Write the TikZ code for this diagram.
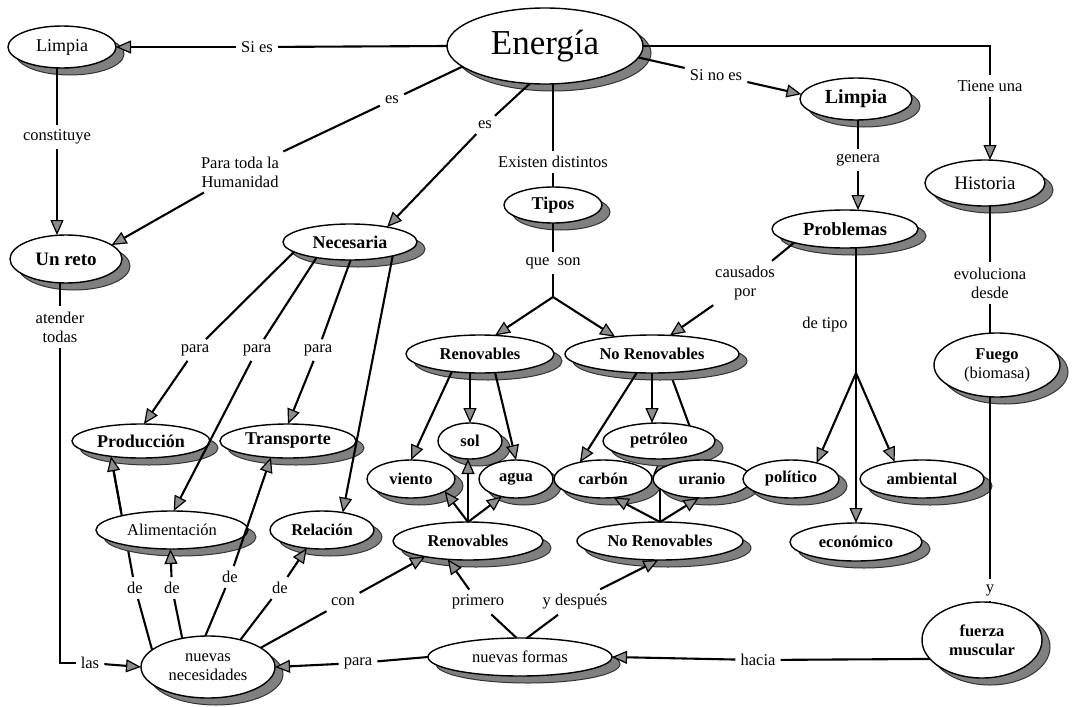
\documentclass[tikz,border=0pt]{standalone}
\usepackage{fontspec}
\setmainfont{Liberation Serif}
\usetikzlibrary{arrows.meta,shapes.geometric,shadows,calc}
\pgfdeclarelayer{bgfill}
\pgfdeclarelayer{bg}
\pgfsetlayers{bgfill,bg,main}
\begin{document}
\begin{tikzpicture}[x=1pt,y=-1pt,
  con/.style={line width=2.1pt, draw=black},
  arr/.style={con, -{Triangle[length=15pt,width=13pt,fill=black!45,line width=1.2pt]}},
  cn/.style={ellipse, draw=black, line width=1.4pt, fill=white, inner sep=0pt, outer sep=0pt,
     drop shadow={shadow xshift=8pt, shadow yshift=-7pt, fill=black!50, draw=black!80, line width=1pt, opacity=1}},
  rg/.style={cn, font=\fontsize{17}{19}\selectfont, align=center},
  bd/.style={cn, font=\fontsize{16.5}{19}\selectfont\bfseries, align=center},
  bb/.style={cn, font=\fontsize{18}{20}\selectfont\bfseries},
  lb/.style={inner xsep=5pt, inner ysep=5pt, font=\fontsize{16.5}{19}\selectfont, align=center},
  ]
\useasboundingbox (0,0) rectangle (1074,707);
\begin{pgfonlayer}{bgfill}
\fill[white] (0,0) rectangle (1074,707);
\end{pgfonlayer}

% ---------------- nodes ----------------
\node[cn, font=\fontsize{35}{40}\selectfont, minimum width=196pt, minimum height=76pt] (E) at (545,46) {Energía};
\node[rg, font=\fontsize{18}{20}\selectfont, minimum width=108pt, minimum height=42pt] (LL) at (62,47) {Limpia};
\node[bb, font=\fontsize{19}{21}\selectfont\bfseries, minimum width=112pt, minimum height=48pt] (UR) at (66,259) {Un reto};
\node[bb, minimum width=134pt, minimum height=36pt] (NE) at (350,242) {Necesaria};
\node[bd, font=\fontsize{18}{20}\selectfont\bfseries, minimum width=98pt, minimum height=36pt] (TI) at (553,205) {Tipos};
\node[bd, font=\fontsize{20}{22}\selectfont\bfseries, minimum width=112pt, minimum height=42pt] (LR) at (856,99) {Limpia};
\node[rg, font=\fontsize{19}{21}\selectfont, minimum width=120pt, minimum height=46pt] (HI) at (985,183) {Historia};
\node[bd, font=\fontsize{18.5}{21}\selectfont\bfseries, minimum width=146pt, minimum height=38pt] (PR) at (845,229) {Problemas};
\node[bd, minimum width=148pt, minimum height=38pt] (RU) at (480,354) {Renovables};
\node[bd, minimum width=174pt, minimum height=38pt] (NRU) at (652,354) {No Renovables};
\node[bd, minimum width=64pt, minimum height=36pt] (SOL) at (470,441) {sol};
\node[bd, minimum width=112pt, minimum height=36pt] (PET) at (659,441) {petróleo};
\node[bd, minimum width=88pt, minimum height=38pt] (VI) at (411,479) {viento};
\node[bd, minimum width=74pt, minimum height=38pt] (AG) at (516,479) {agua};
\node[bd, minimum width=98pt, minimum height=38pt] (CA) at (603,479) {carbón};
\node[bd, minimum width=98pt, minimum height=38pt] (UA) at (702,479) {uranio};
\node[bd, minimum width=96pt, minimum height=38pt] (PO) at (791,479) {político};
\node[bd, minimum width=124pt, minimum height=38pt] (AM) at (922,479) {ambiental};
\node[bd, minimum width=132pt, minimum height=38pt] (EC) at (856,542) {económico};
\node[bd, minimum width=166pt, minimum height=38pt] (NRL) at (660,541) {No Renovables};
\node[bd, minimum width=150pt, minimum height=38pt] (RL) at (468,541) {Renovables};
\node[bb, minimum width=138pt, minimum height=34pt] (PD) at (141,441) {Producción};
\node[bb, minimum width=136pt, minimum height=34pt] (TR) at (288,441) {Transporte};
\node[rg, font=\fontsize{16.5}{19}\selectfont, minimum width=152pt, minimum height=38pt] (AL) at (172,530) {Alimentación};
\node[bd, minimum width=104pt, minimum height=38pt] (RE) at (322,530) {Relación};
\node[rg, font=\fontsize{16.5}{19}\selectfont, minimum width=134pt, minimum height=62pt] (NN) at (208,667) {nuevas\\necesidades};
\node[rg, font=\fontsize{16.5}{19}\selectfont, minimum width=184pt, minimum height=38pt] (NF) at (520,657) {nuevas formas};
\node[bd, minimum width=120pt, minimum height=76pt] (FM) at (982,640) {fuerza\\muscular};
\node[rg, font=\fontsize{16.5}{19}\selectfont, minimum width=126pt, minimum height=64pt] (FU) at (997,365) {\textbf{Fuego}\\(biomasa)};

% ---------------- labels ----------------
\node[lb] (sies) at (257,47) {Si es};
\node[lb] (es1) at (392,100) {es};
\node[lb] (para0) at (240,172) {Para toda la\\Humanidad};
\node[lb] (es2) at (485,125) {es};
\node[lb] (ex) at (553,162) {Existen distintos};
\node[lb] (qs) at (553,263) {que\ \ son};
\node[lb] (sne) at (716,75) {Si no es};
\node[lb] (tu) at (990,86) {Tiene una};
\node[lb] (ge) at (858,160) {genera};
\node[lb] (cp) at (745,283) {causados\\por};
\node[lb] (dtl) at (825,325) {de tipo};
\node[lb] (ev) at (990,283) {evoluciona\\desde};
\node[lb] (yl) at (990,590) {y};
\node[lb] (co) at (57,137) {constituye};
\node[lb] (at) at (60,327) {atender\\todas};
\node[lb] (las) at (90,663) {las};
\node[lb] (p1) at (195,350) {para};
\node[lb] (p2) at (257,350) {para};
\node[lb] (p3) at (318,350) {para};
\node[lb] (de1) at (135,588) {de};
\node[lb] (de2) at (172,588) {de};
\node[lb] (de3) at (230,577) {de};
\node[lb] (de4) at (280,588) {de};
\node[lb] (conl) at (343,602) {con};
\node[lb] (pri) at (478,602) {primero};
\node[lb] (yd) at (575,602) {y después};
\node[lb] (pa) at (358,663) {para};
\node[lb] (ha) at (758,660) {hacia};

\coordinate (br) at (553,297);
\coordinate (dt) at (856,373);

% ---------------- hidden connectors (behind nodes) ----------------
\begin{pgfonlayer}{bg}
\draw[arr] (NRU.-46) -- (UA.north);
\draw[con] (de1) -- (PD.207);
\draw[arr] (NRL.north) -- (NRL.north |- PET.south);
\end{pgfonlayer}

% ---------------- connectors ----------------
\draw[con] (E.west) -- (sies);
\draw[arr] (sies) -- (LL.east);
\draw[con] (E.194) -- (es1);
\draw[con] (es1) -- (para0);
\draw[arr] (para0) -- (UR.17);
\draw[con] (E.248) -- (es2);
\draw[arr] (es2) -- (NE.22);
\draw[con] (E.south -| ex) -- (ex);
\draw[con] (ex) -- (ex |- TI.north);
\draw[con] (TI.south -| qs) -- (qs);
\draw[con] (qs) -- (br);
\draw[arr] (br) -- (RU.51);
\draw[arr] (br) -- (NRU.155);
\draw[con] (E.-7) -- (sne);
\draw[arr] (sne) -- (LR.175);
\draw[con] (E.east) -| (tu);
\draw[arr] (tu) -- (tu |- HI.north);
\draw[con] (LR.south -| ge) -- (ge);
\draw[arr] (ge) -- (ge |- PR.north);
\draw[con] (PR.195) -- (cp);
\draw[arr] (cp) -- (NRU.46);
\draw[arr] (EC |- PR.south) -- (EC.north);
\draw[arr] (dt) -- (PO.32);
\draw[arr] (dt) -- (AM.148);
\draw[con] (HI.south -| ev) -- (ev);
\draw[con] (ev) -- (ev |- FU.north);
\draw[con] (FU.south -| yl) -- (yl);
\draw[con] (yl) -- (yl |- FM.north);
\draw[con] (FM.200) -- (ha);
\draw[arr] (ha) -- (NF.east);
\draw[con] (NF.west) -- (pa);
\draw[arr] (pa) -- (NN.east);
\draw[con] (NF.100) -- (pri);
\draw[arr] (pri) -- (RL.222);
\draw[con] (NF.70) -- (yd);
\draw[arr] (yd) -- (NRL.265);
\draw[con] (NN.20) -- (conl);
\draw[arr] (conl) -- (RL.200);
% Renovables / No Renovables
\draw[arr] (RU.-148) -- (VI.north);
\draw[arr] (SOL |- RU.south) -- (SOL.north);
\draw[arr] (RU.-51) -- (AG.north);
\draw[arr] (NRU.-129) -- (CA.144);
\draw[arr] (NRU.south) -- (NRU.south |- PET.north);
\draw[arr] (RL.north) -- (VI.-20);
\draw[arr] (RL.north) -- (RL.north |- SOL.south);
\draw[arr] (RL.north) -- (AG.231);
\draw[arr] (NRL.north) -- (CA.-60);
\draw[arr] (NRL.north) -- (UA.-100);
% left part
\draw[con] (LL.south -| co) -- (co);
\draw[arr] (co) -- (co |- UR.north);
\draw[con] (UR.south -| at) -- (at);
\draw[con] (at) |- (las);
\draw[arr] (las) -- (NN.west);
\draw[con] (NE.190) -- (p1);
\draw[arr] (p1) -- (PD.80);
\draw[con] (NE.205) -- (p2);
\draw[arr] (p2) -- (AL.85);
\draw[con] (NE.-88) -- (p3);
\draw[arr] (p3) -- (TR.north);
\draw[arr] (NE.-18) -- (RE.40);
\draw[con] (NN.163) -- (de1);
\draw[arr] ($(de1)!0.58!(PD.207)$) -- (PD.207);
\draw[con] (NN.132) -- (de2);
\draw[arr] (de2) -- (AL.-95);
\draw[con] (NN.95) -- (de3);
\draw[arr] (de3) -- (TR.224);
\draw[con] (NN.40) -- (de4);
\draw[arr] (de4) -- (RE.230);
\end{tikzpicture}
\end{document}
